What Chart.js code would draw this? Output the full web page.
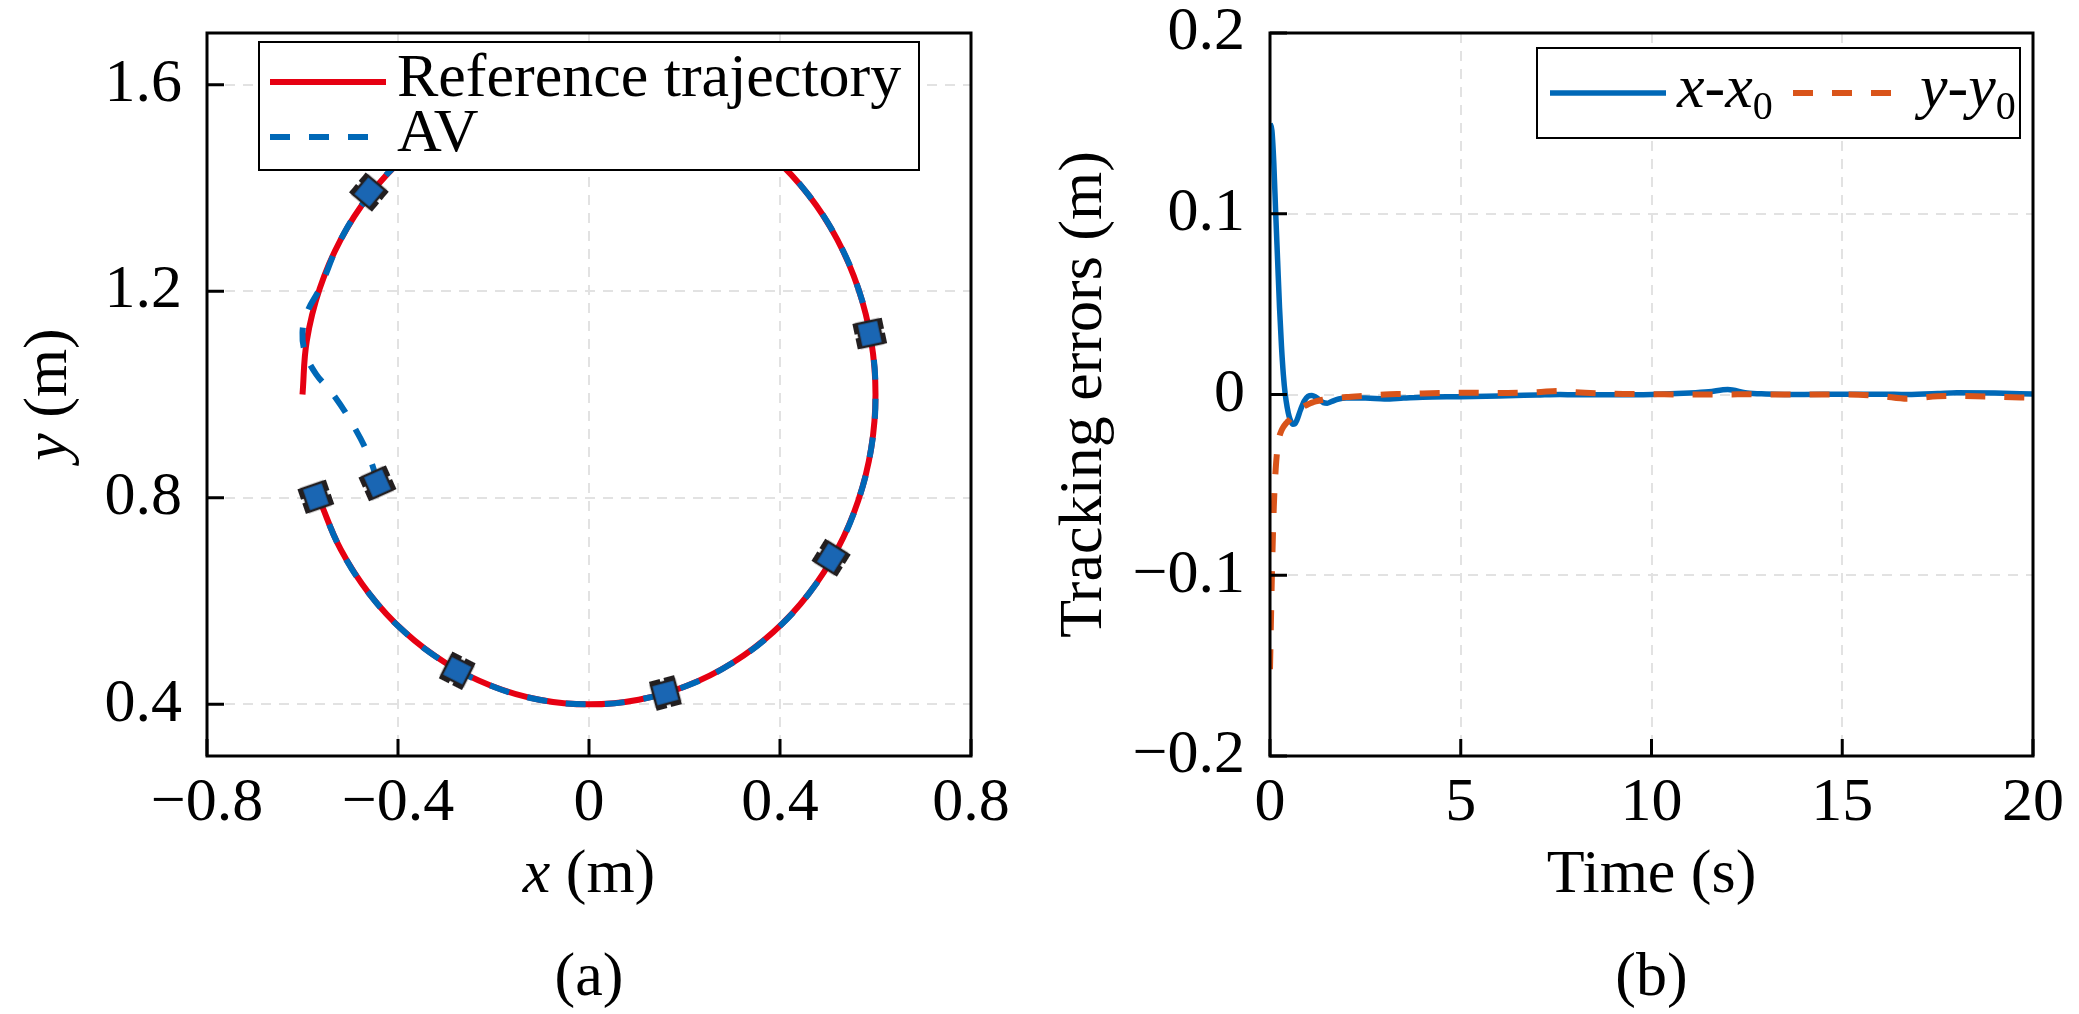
<!DOCTYPE html>
<html lang="en">
<head>
  <meta charset="UTF-8" />
  <title>Trajectory tracking</title>
  <script src="https://cdn.jsdelivr.net/npm/chart.js"></script>
  <style>
    html, body { margin: 0; padding: 0; background: #fff; overflow: hidden; }
    canvas { position: absolute; top: 0; }
    #trajCanvas { left: 0; }
    #errCanvas { left: 1040px; }
  </style>
</head>
<body>
  <canvas id="trajCanvas" width="1040" height="1014"></canvas>
  <canvas id="errCanvas" width="1039" height="1014"></canvas>

  <script>
    // ---- (a) trajectory data ----
    const refX = [-0.600, -0.591, -0.564, -0.520, -0.460, -0.386, -0.300, -0.205, -0.104, 0.000,
                  0.104, 0.205, 0.300, 0.386, 0.460, 0.520, 0.564, 0.591, 0.600,
                  0.591, 0.564, 0.520, 0.460, 0.386, 0.300, 0.205, 0.104, 0.000,
                  -0.104, -0.205, -0.300, -0.386, -0.460, -0.520, -0.564];
    const refY = [1.000, 1.104, 1.205, 1.300, 1.386, 1.460, 1.520, 1.564, 1.591, 1.600,
                  1.591, 1.564, 1.520, 1.460, 1.386, 1.300, 1.205, 1.104, 1.000,
                  0.896, 0.795, 0.700, 0.614, 0.540, 0.480, 0.436, 0.409, 0.400,
                  0.409, 0.436, 0.480, 0.540, 0.614, 0.700, 0.795];

    const avX = [-0.443, -0.458, -0.493, -0.538, -0.572, -0.594, -0.600, -0.590, -0.564,
                 -0.520, -0.460, -0.386, -0.300, -0.205, -0.104, 0.000,
                 0.104, 0.205, 0.300, 0.386, 0.460, 0.520, 0.564, 0.591, 0.600,
                 0.591, 0.564, 0.520, 0.460, 0.386, 0.300, 0.205, 0.104, 0.000,
                 -0.104, -0.205, -0.300, -0.386, -0.460, -0.520, -0.564];
    const avY = [0.828, 0.874, 0.939, 1.003, 1.040, 1.080, 1.120, 1.160, 1.205,
                 1.300, 1.386, 1.460, 1.520, 1.564, 1.591, 1.600,
                 1.591, 1.564, 1.520, 1.460, 1.386, 1.300, 1.205, 1.104, 1.000,
                 0.896, 0.795, 0.700, 0.614, 0.540, 0.480, 0.436, 0.409, 0.400,
                 0.409, 0.436, 0.480, 0.540, 0.614, 0.700, 0.795];

    const carX = [-0.443, -0.461, 0.588, 0.507, 0.160, -0.276, -0.572];
    const carY = [0.828, 1.392, 1.118, 0.684, 0.422, 0.465, 0.802];
    const carHeading = [336, 40, 168, 212, 255, 297, 341];

    const trajXTicks = [-0.8, -0.4, 0, 0.4, 0.8];
    const trajYTicks = [0.4, 0.8, 1.2, 1.6];

    // ---- (b) tracking errors ----
    const errT = [0, 0.05, 0.1, 0.15, 0.2, 0.25, 0.3, 0.35, 0.4, 0.45, 0.5, 0.55, 0.6, 0.65, 0.7, 0.8, 0.9,
                  1.0, 1.1, 1.2, 1.3, 1.4, 1.5, 1.6, 1.8, 2.0, 2.5, 3.0, 3.5, 4.0, 5.0, 6.0, 7.0, 7.6, 8.0,
                  9.0, 10.0, 11.0, 11.5, 12.0, 12.5, 13.0, 14.0, 15.0, 16.0, 16.7, 17.5, 18.0, 19.0, 20.0];
    const errX = [0.150, 0.146, 0.128, 0.100, 0.074, 0.048, 0.027, 0.011, 0.000, -0.007, -0.012, -0.015,
                  -0.0165, -0.0163, -0.0145, -0.0085, -0.0035, -0.001, -0.0005, -0.0015, -0.003, -0.0045,
                  -0.0048, -0.004, -0.0025, -0.002, -0.002, -0.0025, -0.002, -0.0015, -0.0012, -0.0008,
                  -0.0003, 0.0000, -0.0002, -0.0002, 0.0000, 0.0008, 0.0015, 0.0028, 0.0008, 0.0003, 0.0000,
                  0.0002, 0.0002, 0.0000, 0.0005, 0.0010, 0.0008, 0.0003];
    const errY = [-0.152, -0.100, -0.062, -0.041, -0.029, -0.023, -0.020, -0.018, -0.0165, -0.0153, -0.0142,
                  -0.013, -0.0118, -0.0106, -0.0095, -0.0078, -0.0064, -0.0054, -0.0045, -0.0038, -0.0033,
                  -0.0029, -0.0026, -0.0023, -0.0018, -0.0014, -0.0007, 0.0000, 0.0003, 0.0006, 0.0010,
                  0.0008, 0.0013, 0.0020, 0.0012, 0.0004, 0.0002, 0.0000, 0.0000, 0.0000, 0.0002, 0.0000,
                  0.0000, 0.0000, -0.0008, -0.0023, -0.0010, -0.0008, -0.0012, -0.0018];

    const errTTicks = [0, 5, 10, 15, 20];
    const errYTicks = [-0.2, -0.1, 0, 0.1, 0.2];

    // ---- styling ----
    const FAMILY = "'Liberation Serif', 'Times New Roman', serif";
    const FS = 62;
    const RED = '#e60012';
    const BLUE = '#0068b7';
    const ORANGE = '#d9541a';
    const GRID = '#e2e2e2';

    const pts = (xs, ys) => xs.map((x, i) => ({ x: x, y: ys[i] }));
    const fmt = (v) => String(Math.round(v * 10) / 10).replace('-', '\u2212');

    // small vehicle icon, nose pointing up
    function makeCar() {
      const c = document.createElement('canvas');
      c.width = 36; c.height = 36;
      const g = c.getContext('2d');
      g.translate(18, 18);
      g.fillStyle = '#231f20';
      g.fillRect(-15, -13, 6, 11);
      g.fillRect(-15, 2, 6, 11);
      g.fillRect(9, -13, 6, 11);
      g.fillRect(9, 2, 6, 11);
      g.fillStyle = '#1a66b3';
      g.strokeStyle = '#231f20';
      g.lineWidth = 2.5;
      g.fillRect(-11, -12, 22, 24);
      g.strokeRect(-11, -12, 22, 24);
      return c;
    }

    // text with italic / subscript parts
    function drawRich(ctx, parts, x, y, align) {
      const fontOf = (p) => (p.it ? 'italic ' : '') + (p.sub ? Math.round(FS * 0.65) : FS) + 'px ' + FAMILY;
      const widths = parts.map(p => { ctx.font = fontOf(p); return ctx.measureText(p.t).width; });
      const total = widths.reduce((a, b) => a + b, 0);
      let cx = align === 'center' ? x - total / 2 : x;
      ctx.textAlign = 'left';
      ctx.textBaseline = 'middle';
      ctx.fillStyle = '#000';
      parts.forEach((p, i) => {
        ctx.font = fontOf(p);
        ctx.fillText(p.t, cx, p.sub ? y + FS * 0.28 : y);
        cx += widths[i];
      });
    }

    const decorPlugin = {
      id: 'decor',
      afterDatasetsDraw(chart, args, opts) {
        const { ctx, chartArea: a } = chart;
        const lg = opts.legend;
        ctx.save();
        const bx = a.left + lg.box[0], by = a.top + lg.box[1];
        ctx.fillStyle = '#fff';
        ctx.fillRect(bx, by, lg.box[2], lg.box[3]);
        ctx.strokeStyle = '#000';
        ctx.lineWidth = 2;
        ctx.strokeRect(bx, by, lg.box[2], lg.box[3]);
        lg.items.forEach(it => {
          const ds = chart.data.datasets[it.ds];
          const lx = a.left + it.x, ly = a.top + it.y;
          ctx.strokeStyle = ds.borderColor;
          ctx.lineWidth = ds.borderWidth;
          ctx.setLineDash(ds.borderDash || []);
          ctx.beginPath();
          ctx.moveTo(lx, ly);
          ctx.lineTo(lx + 116, ly);
          ctx.stroke();
          ctx.setLineDash([]);
          drawRich(ctx, it.parts, lx + 127, ly - 2, 'left');
        });
        ctx.restore();
      },
      afterDraw(chart, args, opts) {
        const { ctx, chartArea: a, scales } = chart;
        ctx.save();
        ctx.strokeStyle = '#000';
        ctx.lineWidth = 3;
        ctx.strokeRect(a.left, a.top, a.right - a.left, a.bottom - a.top);
        ctx.beginPath();
        scales.x.ticks.forEach(t => {
          const px = scales.x.getPixelForValue(t.value);
          ctx.moveTo(px, a.bottom);
          ctx.lineTo(px, a.bottom - 17);
        });
        scales.y.ticks.forEach(t => {
          const py = scales.y.getPixelForValue(t.value);
          ctx.moveTo(a.left, py);
          ctx.lineTo(a.left + 17, py);
        });
        ctx.stroke();
        const cxm = (a.left + a.right) / 2;
        drawRich(ctx, opts.xTitle, cxm, 876, 'center');
        drawRich(ctx, opts.panel, cxm, 979, 'center');
        ctx.translate(opts.yTitleX, (a.top + a.bottom) / 2);
        ctx.rotate(-Math.PI / 2);
        drawRich(ctx, opts.yTitle, 0, 0, 'center');
        ctx.restore();
      }
    };

    function axis(min, max, tickVals, fixW, fixH, fmtFn) {
      return {
        type: 'linear',
        min: min,
        max: max,
        afterBuildTicks: (s) => { s.ticks = tickVals.map(v => ({ value: v })); },
        afterFit: (s) => {
          if (fixW) s.width = fixW;
          if (fixH) s.height = fixH;
          s.paddingTop = 0; s.paddingBottom = 0; s.paddingLeft = 0; s.paddingRight = 0;
        },
        grid: { color: GRID, lineWidth: 2, drawTicks: false },
        border: { display: false, dash: [10, 8] },
        ticks: {
          color: '#000',
          font: { family: FAMILY, size: FS, lineHeight: 1.2 },
          padding: fixW ? 25 : 11,
          maxRotation: 0,
          autoSkip: false,
          callback: fmtFn
        }
      };
    }

    const trajChart = new Chart(document.getElementById('trajCanvas'), {
      type: 'scatter',
      data: {
        datasets: [
          {
            label: 'vehicle',
            data: pts(carX, carY),
            pointStyle: makeCar(),
            pointRadius: 14,
            pointRotation: carHeading,
            showLine: false,
            order: 0
          },
          {
            label: 'AV',
            data: pts(avX, avY),
            showLine: true,
            borderColor: BLUE,
            borderWidth: 6,
            borderDash: [20, 19],
            pointRadius: 0,
            tension: 0.4,
            order: 1
          },
          {
            label: 'Reference trajectory',
            data: pts(refX, refY),
            showLine: true,
            borderColor: RED,
            borderWidth: 6,
            pointRadius: 0,
            tension: 0.4,
            order: 2
          }
        ]
      },
      options: {
        responsive: false,
        animation: false,
        devicePixelRatio: 1,
        layout: { padding: { left: 0, top: 33, right: 69, bottom: 0 } },
        scales: {
          x: axis(-0.8, 0.8, trajXTicks, 0, 258, fmt),
          y: axis(0.3, 1.7, trajYTicks, 207, 0, fmt)
        },
        plugins: {
          legend: { display: false },
          tooltip: { enabled: false },
          decor: {
            legend: {
              box: [52, 9, 660, 128],
              items: [
                { ds: 2, x: 63, y: 49, parts: [{ t: 'Reference trajectory' }] },
                { ds: 1, x: 63, y: 104, parts: [{ t: 'AV' }] }
              ]
            },
            xTitle: [{ t: 'x', it: true }, { t: ' (m)' }],
            yTitle: [{ t: 'y', it: true }, { t: ' (m)' }],
            yTitleX: 50,
            panel: [{ t: '(a)' }]
          }
        }
      },
      plugins: [decorPlugin]
    });

    const errChart = new Chart(document.getElementById('errCanvas'), {
      type: 'scatter',
      data: {
        datasets: [
          {
            label: 'y-y0',
            data: pts(errT, errY),
            showLine: true,
            borderColor: ORANGE,
            borderWidth: 6,
            borderDash: [20, 19],
            pointRadius: 0,
            cubicInterpolationMode: 'monotone',
            order: 0
          },
          {
            label: 'x-x0',
            data: pts(errT, errX),
            showLine: true,
            borderColor: BLUE,
            borderWidth: 5.5,
            pointRadius: 0,
            cubicInterpolationMode: 'monotone',
            order: 1
          }
        ]
      },
      options: {
        responsive: false,
        animation: false,
        devicePixelRatio: 1,
        layout: { padding: { left: 0, top: 33, right: 46, bottom: 0 } },
        scales: {
          x: axis(0, 20, errTTicks, 0, 258, (v) => String(v)),
          y: axis(-0.2, 0.2, errYTicks, 230, 0, fmt)
        },
        plugins: {
          legend: { display: false },
          tooltip: { enabled: false },
          decor: {
            legend: {
              box: [267, 15, 483, 90],
              items: [
                { ds: 1, x: 280, y: 60, parts: [{ t: 'x', it: true }, { t: '-' }, { t: 'x', it: true }, { t: '0', sub: true }] },
                { ds: 0, x: 523, y: 60, parts: [{ t: 'y', it: true }, { t: '-' }, { t: 'y', it: true }, { t: '0', sub: true }] }
              ]
            },
            xTitle: [{ t: 'Time (s)' }],
            yTitle: [{ t: 'Tracking errors (m)' }],
            yTitleX: 45,
            panel: [{ t: '(b)' }]
          }
        }
      },
      plugins: [decorPlugin]
    });
  </script>
</body>
</html>
